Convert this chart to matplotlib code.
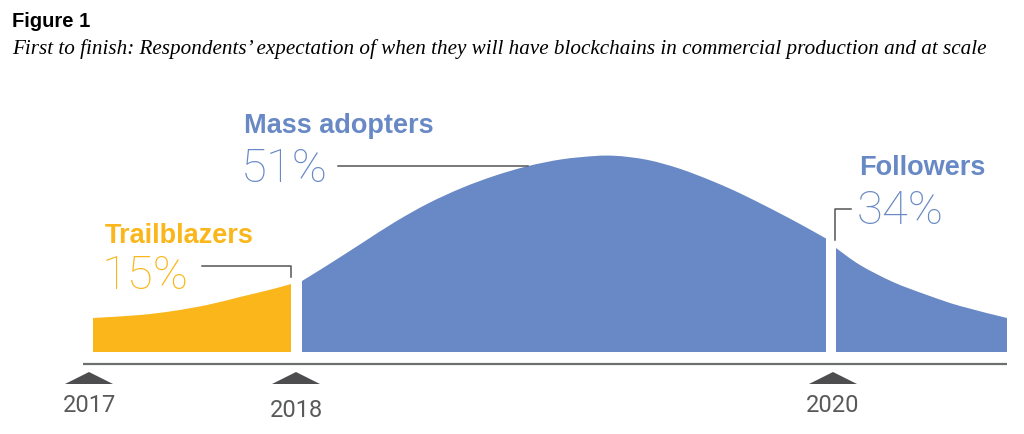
import matplotlib
matplotlib.use("Agg")
import matplotlib.pyplot as plt
from matplotlib.patches import Polygon, PathPatch
from matplotlib.path import Path

# ---- data ----
segment_names = ["Trailblazers", "Mass adopters", "Followers"]
segment_shares = ["15%", "51%", "34%"]

# curve outline: horizontal position and height above the baseline
trail_x = [93, 140, 173, 207, 240, 273, 291]
trail_h = [34, 37, 41, 47, 55, 63, 68]

mass_x = [302, 328, 362, 395, 428, 462, 495, 528, 562, 595, 613, 630, 647,
          663, 680, 697, 713, 730, 747, 763, 780, 797, 813, 826]
mass_h = [71, 87.1, 108.9, 130, 148.5, 164.1, 176.3, 185.9, 192.7, 196,
          196.3, 194.8, 192.2, 188.3, 183.2, 177, 170.6, 163.3, 155.3, 147.3,
          138.6, 129.6, 120.8, 113.5]

foll_x = [836, 860, 893, 927, 960, 1007]
foll_h = [104, 87, 70, 57, 46, 34]

year_labels = ["2017", "2018", "2020"]
year_pos = [89, 296, 833]

# ---- style ----
YELLOW = "#FAB61A"
BLUE = "#6889C5"
GREY = "#58595B"
BASE = 352  # pixel row of the baseline


def Y(pix):
    return BASE - pix


def smooth_area(xs, hs):
    """Closed area under a smooth (Catmull-Rom drawn as Bezier) outline."""
    pts = list(zip(xs, hs))
    verts = [(xs[0], 0), pts[0]]
    codes = [Path.MOVETO, Path.LINETO]
    n = len(pts)
    for i in range(n - 1):
        p0 = pts[i - 1] if i > 0 else pts[i]
        p1 = pts[i]
        p2 = pts[i + 1]
        p3 = pts[i + 2] if i + 2 < n else pts[i + 1]
        c1 = (p1[0] + (p2[0] - p0[0]) / 6, p1[1] + (p2[1] - p0[1]) / 6)
        c2 = (p2[0] - (p3[0] - p1[0]) / 6, p2[1] - (p3[1] - p1[1]) / 6)
        verts += [c1, c2, p2]
        codes += [Path.CURVE4] * 3
    verts += [(xs[-1], 0), (xs[0], 0)]
    codes += [Path.LINETO, Path.CLOSEPOLY]
    return Path(verts, codes)


fig = plt.figure(figsize=(10.24, 4.34), dpi=100)
ax = fig.add_axes([0, 0, 1, 1])
ax.set_xlim(0, 1024)
ax.set_ylim(BASE - 434, BASE)
ax.axis("off")

for xs, hs, col in [(trail_x, trail_h, YELLOW), (mass_x, mass_h, BLUE),
                    (foll_x, foll_h, BLUE)]:
    ax.add_patch(PathPatch(smooth_area(xs, hs), facecolor=col, lw=0))

# axis line
ax.plot([83, 1007], [Y(364), Y(364)], color="#6d6e70", lw=1.6,
        solid_capstyle="butt")

# triangles + year labels
year_base = [412, 417, 412]
for pos, lab, yb in zip(year_pos, year_labels, year_base):
    tri = Polygon([[pos - 24, Y(384)], [pos, Y(372)], [pos + 24, Y(384)]],
                  closed=True, color="#4d4d4f", lw=0)
    ax.add_patch(tri)
    ax.text(pos, Y(yb), lab, ha="center", va="baseline", fontsize=17,
            color=GREY, family="Roboto", fontweight="normal")

# titles
ax.text(12, Y(27), "Figure 1", fontsize=14.5, fontweight="bold",
        family="Liberation Sans", color="black", va="baseline")
ax.text(12, Y(54),
        "First to finish: Respondents\u2019 expectation of when they will have blockchains in commercial production and at scale",
        fontsize=15.2, style="italic", family="Liberation Serif", color="black",
        va="baseline")

# segment labels
name_pos = [(105, 243, YELLOW), (244, 133, BLUE), (859, 175, BLUE)]
share_pos = [(102, 289, YELLOW), (241, 182, BLUE), (857, 224, BLUE)]
for name, share, (nx, ny, c), (sx, sy, c2) in zip(segment_names, segment_shares,
                                                   name_pos, share_pos):
    ax.text(nx, Y(ny), name, fontsize=19.5, fontweight="bold",
            family="Liberation Sans", color=c, va="baseline")
    ax.text(sx, Y(sy), share, fontsize=34, fontweight="light",
            family="Roboto", color=c2, va="baseline")

# leader lines
lc = dict(color="#555555", lw=1.1)
ax.plot([202, 291, 291], [Y(266), Y(266), Y(277)], **lc)
ax.plot([338, 528], [Y(166), Y(166)], **lc)
ax.plot([851, 835, 835], [Y(209), Y(209), Y(240)], **lc)

fig.savefig("out.png", dpi=100)
